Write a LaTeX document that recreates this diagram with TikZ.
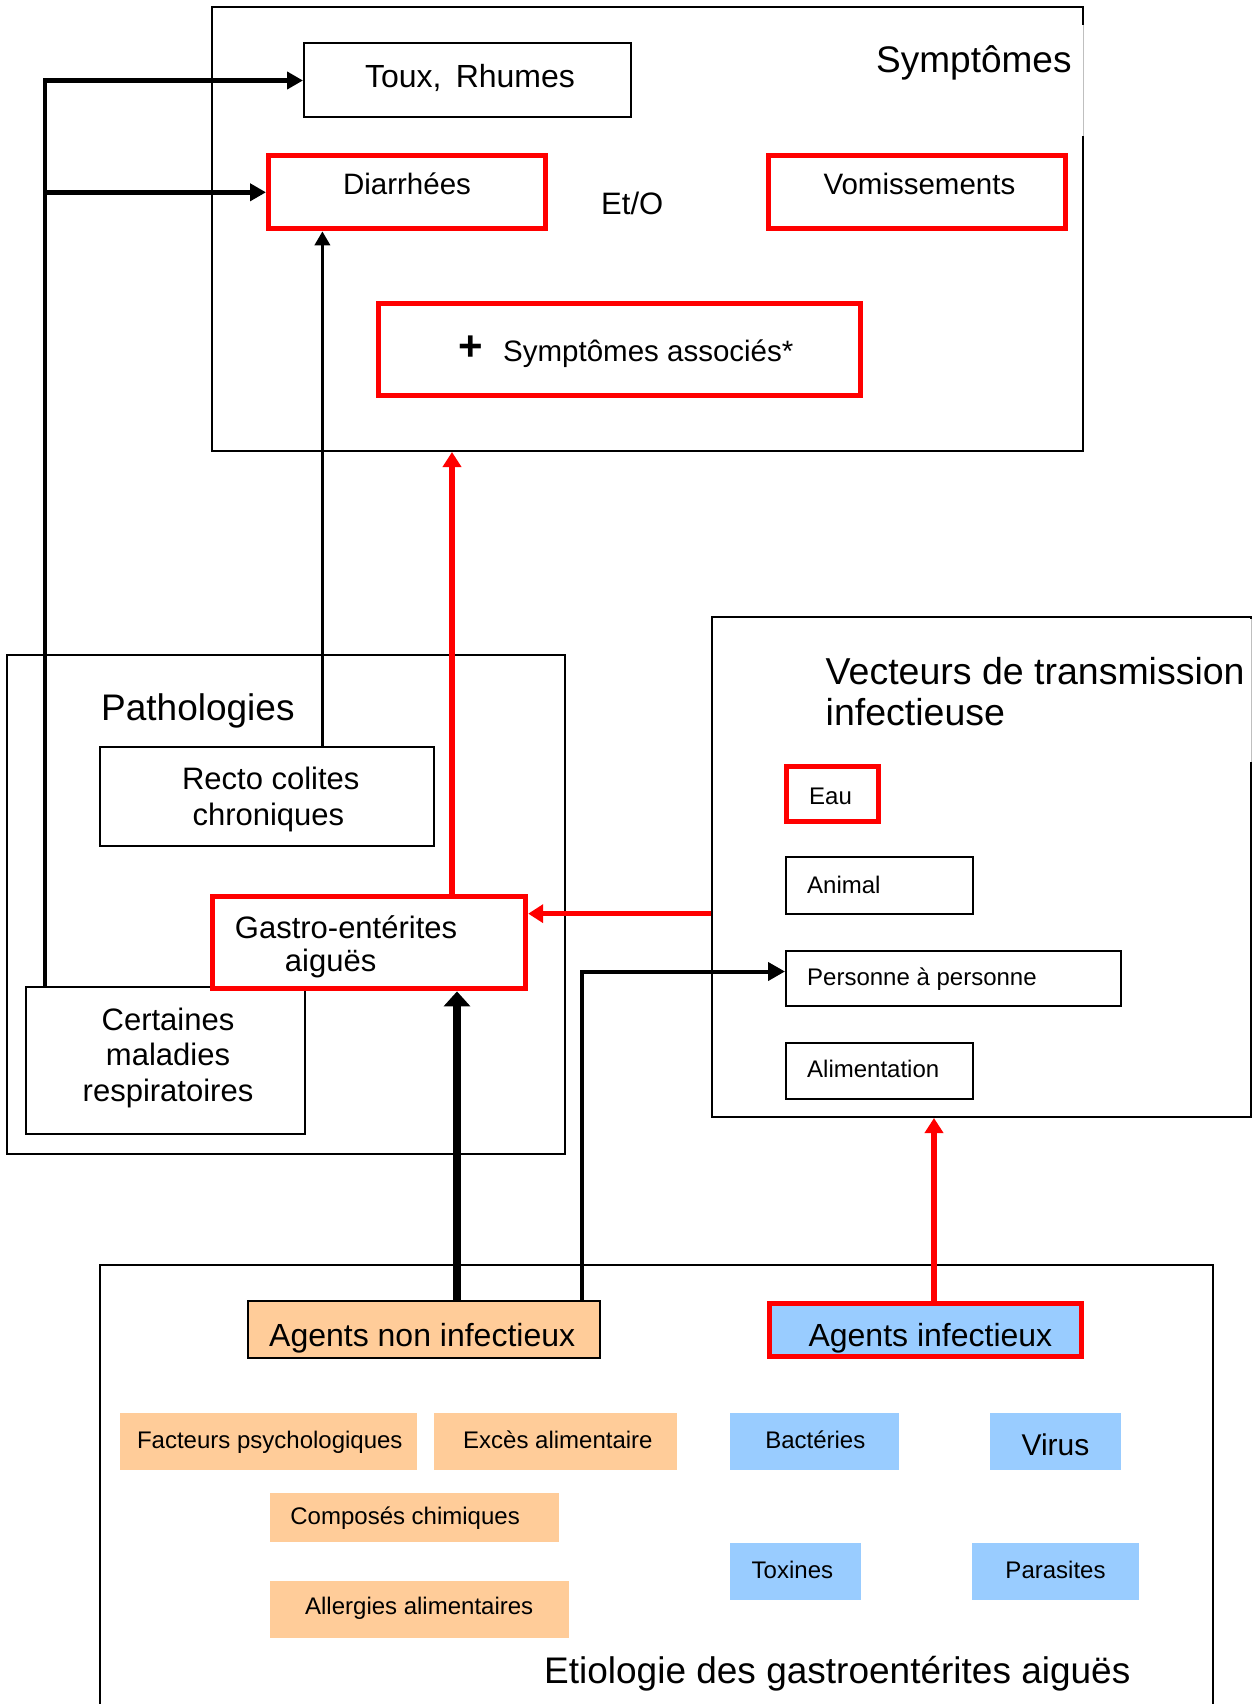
\documentclass[tikz,border=0pt]{standalone}
\usepackage{fontspec}
\setmainfont{Liberation Sans}
\usetikzlibrary{arrows.meta,fit}
\definecolor{peachc}{HTML}{FFCC99}
\definecolor{bluec}{HTML}{99CCFF}
\tikzset{
  thinbox/.style={draw=black, line width=2pt, inner sep=0pt, fill=white},
  redbox/.style={draw=red, line width=5pt, inner sep=0pt, fill=white},
  peachbox/.style={fill=peachc, inner sep=0pt},
  bluebox/.style={fill=bluec, inner sep=0pt},
  lbl/.style={inner sep=0pt, anchor=base},
  lblw/.style={inner sep=0pt, anchor=base west},
  fs/.style={font=\fontsize{#1pt}{#1pt}\selectfont},
  blkc/.style={draw=black, line width=4.5pt, -{Triangle[length=16pt,width=17pt]}},
  medc/.style={draw=black, line width=3.5pt, -{Triangle[length=14pt,width=15pt]}},
  ppc/.style={draw=black, line width=4pt, -{Triangle[length=17pt,width=18pt]}},
  thickc/.style={draw=black, line width=8pt, -{Triangle[length=15pt,width=26pt]}},
  redc/.style={draw=red, line width=5.5pt, -{Triangle[length=15pt,width=18pt]}},
}
\begin{document}
\begin{tikzpicture}[x=1pt,y=-1pt]
\useasboundingbox (0,0) rectangle (1259,1704);

% containers
\node[thinbox, fit={(212,7) (1083,451)}] (symp) {};
\node[thinbox, fit={(7.3,655) (564.5,1154)}] (patho) {};
\node[thinbox, fit={(712,617) (1251,1117)}] (vect) {};
\node[thinbox, fit={(99.6,1265) (1212.5,1725)}] (etio) {};
\draw[white, line width=3pt] (1083,25) -- (1083,136);
\draw[gray!50, line width=0.7pt] (1083,25) -- (1083,136);
\draw[white, line width=3pt] (1251,619) -- (1251,762);
\draw[gray!50, line width=0.7pt] (1251,619) -- (1251,762);

% symptoms
\node[thinbox, fit={(304,43.5) (630.5,117.5)}] (toux) {};
\node[redbox, fit={(268.5,155.8) (545.5,228.8)}] (diar) {};
\node[redbox, fit={(768.5,155.8) (1065.3,228.8)}] (vomi) {};
\node[redbox, fit={(378,303.5) (860.4,395.2)}] (assoc) {};
\node[lblw, fs=37] (symlbl) at (876,72.7) {Symptômes};
\node[lbl, fs=32] (touxt) at (470,87.3) {Toux,\, Rhumes};
\node[lbl, fs=29.5] (diart) at (407,195) {Diarrhées};
\node[lblw, fs=31] (eto) at (601,215) {Et/O};
\node[lbl, fs=29.5] (vomit) at (919.4,195) {Vomissements};
\node[lbl, fs=42, font=\fontsize{42pt}{42pt}\selectfont\bfseries] (plus) at (471,360) {+};
\node[lblw, fs=29.5] (assoct) at (503,361.7) {Symptômes associés*};

% pathologies
\node[lblw, fs=37] (pathlbl) at (101,720) {Pathologies};
\node[thinbox, fit={(100,747) (434.3,845.7)}] (recto) {};
\node[lbl, fs=31] (recto1) at (270.8,789) {Recto colites};
\node[lbl, fs=31] (recto2) at (268.4,825.4) {chroniques};
\node[thinbox, fit={(25.7,987) (304.5,1133.6)}] (cert) {};
\node[lbl, fs=31] (cert1) at (168,1030.7) {Certaines};
\node[lbl, fs=31] (cert2) at (168,1065.7) {maladies};
\node[lbl, fs=31] (cert3) at (168,1101.1) {respiratoires};
\node[redbox, fit={(212.3,896.4) (525.7,988.9)}] (gastro) {};
\node[lblw, fs=31] (gastro1) at (234.7,938.9) {Gastro-entérites};
\node[lbl, fs=31] (gastro2) at (330.6,971.8) {aiguës};

% vecteurs
\node[lblw, fs=37.5] (vect1) at (825.5,684) {Vecteurs de transmission};
\node[lblw, fs=37.5] (vect2) at (825.5,725) {infectieuse};
\node[redbox, fit={(786.5,766) (878.3,821.5)}] (eau) {};
\node[lblw, fs=24] (eaut) at (809,804.3) {Eau};
\node[thinbox, fit={(786,857) (972.8,913.6)}] (animal) {};
\node[lblw, fs=24] (animalt) at (807,893.6) {Animal};
\node[thinbox, fit={(786,951) (1121,1006)}] (pp) {};
\node[lblw, fs=24] (ppt) at (807,985.7) {Personne à personne};
\node[thinbox, fit={(786,1043) (972.8,1099.3)}] (alim) {};
\node[lblw, fs=24] (alimt) at (807,1077.5) {Alimentation};

% etiologie
\node[draw=black, line width=2pt, fill=peachc, inner sep=0pt, fit={(247.8,1301.3) (600.4,1357.7)}] (ani) {};
\node[lblw, fs=32] (anit) at (269,1346) {Agents non infectieux};
\node[draw=red, line width=5pt, fill=bluec, inner sep=0pt, fit={(769.6,1303.2) (1081.2,1356.5)}] (ai) {};
\node[lbl, fs=32] (ait) at (930.4,1346) {Agents infectieux};
\node[peachbox, fit={(120,1413) (417.1,1469.7)}] (fact) {};
\node[lbl, fs=24] (factt) at (269.8,1448.3) {Facteurs psychologiques};
\node[peachbox, fit={(433.9,1413) (677.1,1469.7)}] (exces) {};
\node[lbl, fs=24] (excest) at (557.9,1448.3) {Excès alimentaire};
\node[peachbox, fit={(269.8,1493) (558.8,1541.7)}] (comp) {};
\node[lblw, fs=24] (compt) at (290.2,1524) {Composés chimiques};
\node[peachbox, fit={(269.8,1581) (569,1637.7)}] (allerg) {};
\node[lbl, fs=24] (allergt) at (419.2,1614.3) {Allergies alimentaires};
\node[bluebox, fit={(730,1413) (899,1469.7)}] (bact) {};
\node[lbl, fs=24] (bactt) at (815.3,1448.3) {Bactéries};
\node[bluebox, fit={(990.2,1413) (1120.9,1469.7)}] (virus) {};
\node[lbl, fs=30] (virust) at (1055.5,1455) {Virus};
\node[bluebox, fit={(730,1543) (861,1599.7)}] (tox) {};
\node[lbl, fs=24] (toxt) at (792.4,1578.3) {Toxines};
\node[bluebox, fit={(972,1543) (1139,1599.7)}] (para) {};
\node[lbl, fs=24] (parat) at (1055.5,1578.3) {Parasites};
\node[lblw, fs=37] (etiot) at (544,1683.3) {Etiologie des gastroentérites aiguës};

% connectors
\coordinate (bus) at ([xshift=20.3pt]cert.north west);
\coordinate (xr) at (322.4,0);
\coordinate (xg) at (452,0);
\coordinate (xt) at (457,0);
\coordinate (xp) at (582,0);
\coordinate (xv) at (934,0);
\coordinate (gin) at ([yshift=29pt]gastro.east);
\draw[blkc] (bus) |- (toux.west);
\draw[blkc] (bus |- diar.west) -- (diar.west);
\draw[medc] (recto.north -| xr) -- (diar.south -| xr);
\draw[redc] (gastro.north -| xg) -- (symp.south -| xg);
\draw[redc] (vect.west |- gin) -- (gin);
\draw[thickc] (ani.north -| xt) -- (gastro.south -| xt);
\draw[ppc] (ani.north -| xp) |- ([yshift=7pt]pp.west);
\draw[redc] (ai.north -| xv) -- (vect.south -| xv);
\end{tikzpicture}
\end{document}
